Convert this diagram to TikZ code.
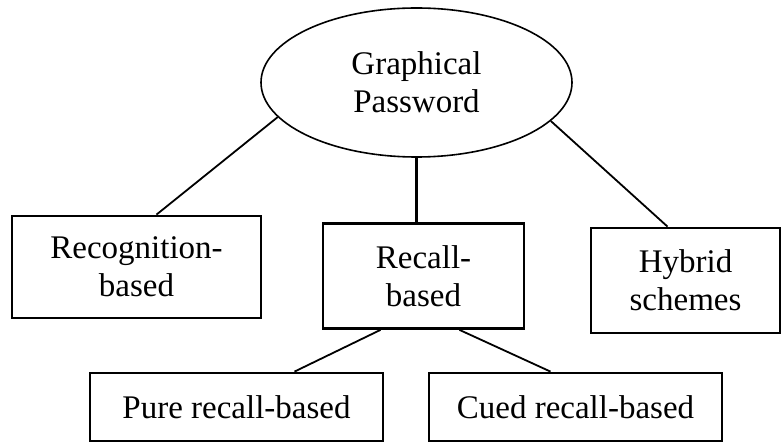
\documentclass[tikz,border=0pt]{standalone}
\usepackage{fontspec}
\setmainfont{Liberation Serif}
\usetikzlibrary{shapes.geometric}
\tikzset{
    box/.style={draw, line width=2.8pt, align=center, inner sep=0pt},
    link/.style={line width=1.8pt}
}
\begin{document}
\begin{tikzpicture}[x=1pt,y=-1pt,font=\fontsize{33}{38}\selectfont]
            \useasboundingbox (0,0) rectangle (782,443);
            \node [draw, ellipse, line width=1.6pt, minimum width=311pt, minimum height=149pt, align=center, inner sep=0pt] (gp) at (416.5,82.5) {Graphical\\Password};
            \node [box, minimum width=249pt, minimum height=102pt] (recog) at (136.5,267) {Recognition-\\based};
            \node [box, minimum width=201pt, minimum height=105pt] (recall) at (423.5,276) {Recall-\\based};
            \node [box, minimum width=189pt, minimum height=105pt] (hybrid) at (685.5,280.5) {Hybrid\\schemes};
            \node [box, minimum width=293pt, minimum height=68pt] (pure) at (236.5,407) {Pure recall-based};
            \node [box, minimum width=293pt, minimum height=68pt] (cued) at (575.5,407) {Cued recall-based};
            \draw [link] (gp.194) -- ([xshift=20pt]recog.north);
            \draw [link, line width=2.2pt] (gp.south) -- (gp.south |- recall.north);
            \draw [link] (gp.344) -- ([xshift=-18pt]hybrid.north);
            \draw [link] ([xshift=-43pt]recall.south) -- ([xshift=58pt]pure.north);
            \draw [link] ([xshift=36pt]recall.south) -- ([xshift=-25pt]cued.north);
        \end{tikzpicture}
\end{document}
